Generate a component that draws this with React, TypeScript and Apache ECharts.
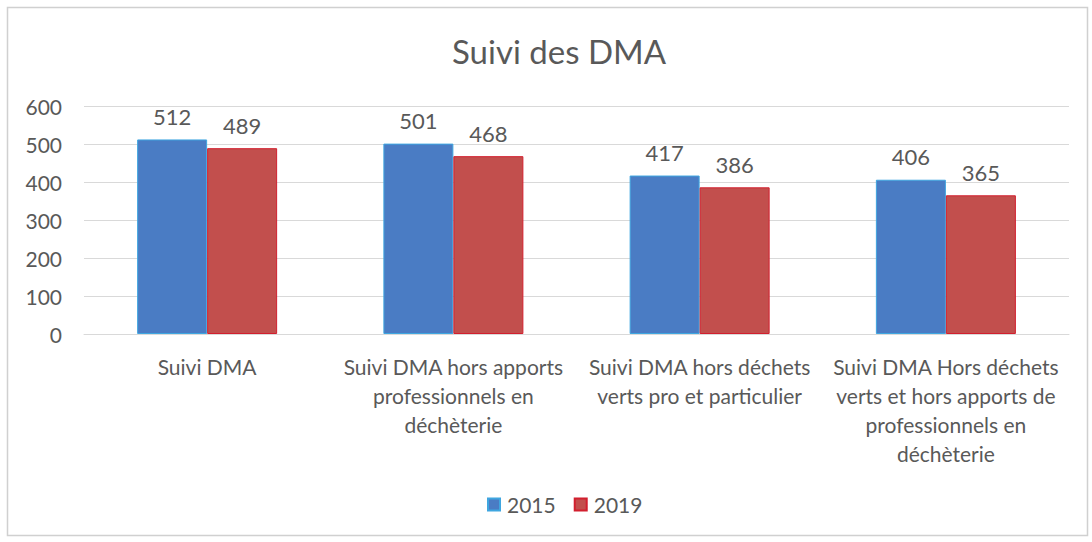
import React, { useEffect, useRef } from "react";
import * as echarts from "echarts";

const categories = [
  "Suivi DMA",
  "Suivi DMA hors apports\nprofessionnels en\ndéchèterie",
  "Suivi DMA hors déchets\nverts pro et particulier",
  "Suivi DMA Hors déchets\nverts et hors apports de\nprofessionnels en\ndéchèterie",
];
const values2015 = [512, 501, 417, 406];
const values2019 = [489, 468, 386, 365];
const seriesNames = ["2015", "2019"];
const titleText = "Suivi des DMA";

const FONT = "Lato, 'Liberation Sans', sans-serif";
const TEXT = "#595959";

export default function App() {
  const ref = useRef<HTMLDivElement>(null);
  useEffect(() => {
    document.body.style.margin = "0";
    if (!ref.current) return;
    const chart = echarts.init(ref.current, undefined, { renderer: "svg" });
    const label = {
      show: true,
      position: "top" as const,
      distance: 12,
      color: TEXT,
      fontSize: 22,
      fontFamily: FONT,
    };
    chart.setOption({
      animation: false,
      backgroundColor: "#ffffff",
      textStyle: { fontFamily: FONT },
      title: {
        text: titleText,
        left: 447,
        top: 29,
        textStyle: { color: TEXT, fontSize: 33, fontWeight: "normal", fontFamily: FONT },
      },
      legend: {
        data: seriesNames,
        bottom: 22,
        left: 482,
        itemWidth: 12,
        itemHeight: 12,
        itemGap: 18,
        icon: "rect",
        textStyle: { color: TEXT, fontSize: 21, fontFamily: FONT, padding: [0, 0, 0, 2] },
      },
      grid: { left: 84, right: 23, top: 106, bottom: 208, containLabel: false },
      xAxis: {
        type: "category",
        data: categories,
        axisLine: { show: true, lineStyle: { color: "#d9d9d9" } },
        axisTick: { show: false },
        axisLabel: {
          color: TEXT,
          fontSize: 21,
          fontFamily: FONT,
          lineHeight: 29,
          margin: 18,
          interval: 0,
        },
      },
      yAxis: {
        type: "value",
        min: 0,
        max: 600,
        interval: 100,
        axisLine: { show: false },
        axisTick: { show: false },
        axisLabel: { color: TEXT, fontSize: 21, fontFamily: FONT, margin: 22 },
        splitLine: { lineStyle: { color: "#d9d9d9", width: 1 } },
      },
      series: [
        {
          name: seriesNames[0],
          type: "bar",
          data: values2015,
          barWidth: 70,
          barGap: "0%",
          itemStyle: { color: "#4a7cc4", borderColor: "#3fa6e0", borderWidth: 1 },
          label,
        },
        {
          name: seriesNames[1],
          type: "bar",
          data: values2019,
          barWidth: 70,
          barGap: "0%",
          itemStyle: { color: "#c24f4d", borderColor: "#d21f2e", borderWidth: 1 },
          label,
        },
      ],
      graphic: [
        {
          type: "rect",
          shape: { x: 7.5, y: 7.5, width: 1080, height: 528 },
          style: { fill: "none", stroke: "#d0d0d0", lineWidth: 1.5 },
          silent: true,
          z: -1,
        },
      ],
    });
    return () => chart.dispose();
  }, []);
  return <div ref={ref} style={{ width: 1092, height: 542 }} />;
}
